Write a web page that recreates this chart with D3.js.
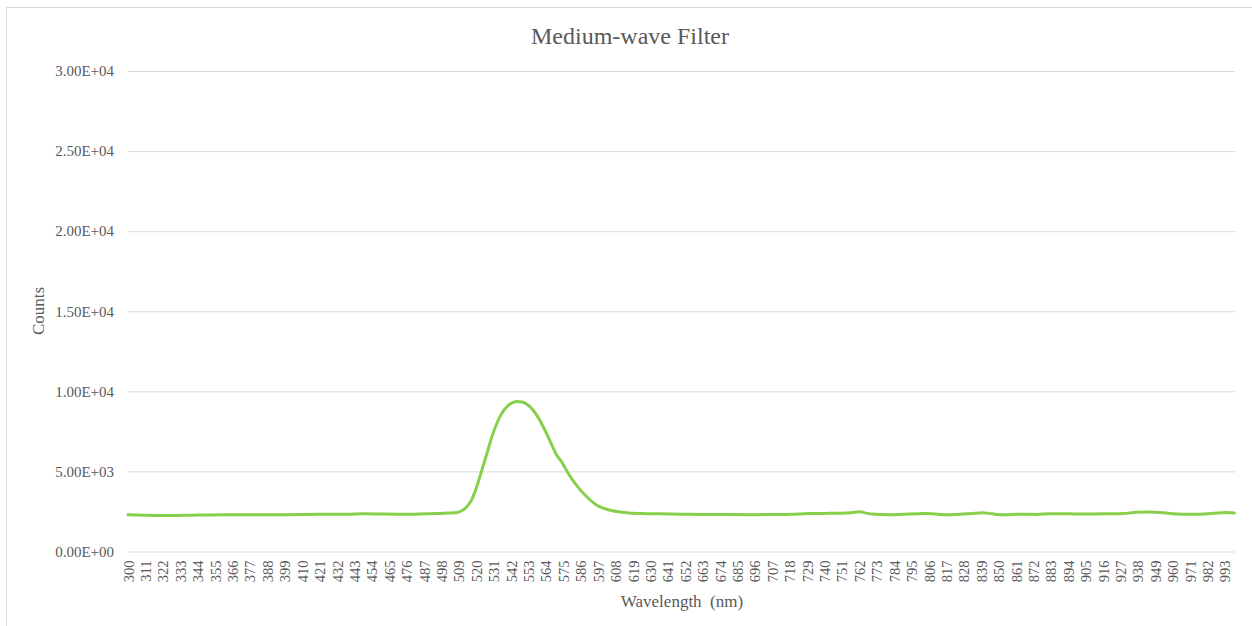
<!DOCTYPE html>
<html>
<head>
<meta charset="utf-8">
<script src="https://cdn.jsdelivr.net/npm/d3@7"></script>
<style>
  body { margin: 0; background: #fff; }
  text { font-family: "Times New Roman", "Liberation Serif", serif; fill: #595959; }
</style>
</head>
<body>
<svg id="chart" width="1252" height="626"></svg>
<script>
// wavelength (nm) samples
const wavelengths = [300, 310, 320, 330, 340, 350, 360, 370, 380, 390, 400, 410, 420, 430, 440, 450, 460, 470, 480, 490,
  497, 503, 508, 513, 517, 520, 523, 527, 530, 533, 536, 540, 543, 546, 549, 552, 556, 560, 564, 568, 571, 574, 578, 583,
  590, 596, 604, 615, 625, 635, 650, 665, 680, 695, 710, 720, 730, 740, 750, 757, 762, 767, 772, 781, 790, 800, 805, 815,
  826, 833, 840, 846, 853, 864, 874, 883, 895, 906, 918, 929, 937, 944, 952, 960, 968, 975, 986, 994, 999];
const counts = [2300, 2270, 2250, 2250, 2270, 2280, 2290, 2300, 2300, 2290, 2300, 2310, 2320, 2320, 2330, 2350, 2340, 2330, 2330, 2350,
  2380, 2400, 2440, 2690, 3210, 3950, 4900, 6200, 7200, 7990, 8600, 9100, 9300, 9360, 9330, 9200, 8820, 8230, 7450, 6600, 6000, 5600, 4900, 4180,
  3400, 2900, 2590, 2420, 2370, 2350, 2330, 2310, 2310, 2300, 2310, 2330, 2370, 2380, 2390, 2420, 2480, 2380, 2330, 2300, 2330, 2360, 2380, 2290,
  2330, 2380, 2420, 2350, 2290, 2330, 2310, 2360, 2350, 2340, 2350, 2370, 2450, 2470, 2440, 2360, 2330, 2320, 2390, 2430, 2400];

const xTicks = [300, 311, 322, 333, 344, 355, 366, 377, 388, 399, 410, 421, 432, 443, 454, 465, 476, 487, 498, 509,
  520, 531, 542, 553, 564, 575, 586, 597, 608, 619, 630, 641, 652, 663, 674, 685, 696, 707, 718, 729, 740, 751,
  762, 773, 784, 795, 806, 817, 828, 839, 850, 861, 872, 883, 894, 905, 916, 927, 938, 949, 960, 971, 982, 993];
const yTicks = [0, 5000, 10000, 15000, 20000, 25000, 30000];

const svg = d3.select('#chart');
const plotLeft = 128, plotRight = 1235, plotTop = 71, plotBottom = 551.5;

// chart frame
svg.append('rect')
  .attr('x', 6.5).attr('y', 7.5)
  .attr('width', 1260).attr('height', 640)
  .attr('fill', 'none').attr('stroke', '#d9d9d9');

const x = d3.scaleLinear().domain([300, 1000]).range([plotLeft, plotRight + 1]);
const y = d3.scaleLinear().domain([0, 30000]).range([plotBottom, plotTop]);

// Excel style 3.00E+04
const sci = v => {
  if (v === 0) return '0.00E+00';
  const e = Math.floor(Math.log10(v));
  const m = v / Math.pow(10, e);
  return m.toFixed(2) + 'E' + (e < 0 ? '-' : '+') + String(Math.abs(e)).padStart(2, '0');
};

const yAxis = svg.append('g')
  .attr('transform', `translate(${plotLeft},0)`)
  .call(d3.axisLeft(y).tickValues(yTicks).tickFormat(sci).tickSize(-(plotRight - plotLeft)).tickPadding(14));
yAxis.select('.domain').remove();
yAxis.selectAll('line').attr('stroke', '#d9d9d9');
yAxis.selectAll('text').style('font-size', '15px');

const xAxis = svg.append('g')
  .attr('transform', `translate(0,${plotBottom})`)
  .call(d3.axisBottom(x).tickValues(xTicks).tickSize(0));
xAxis.select('.domain').remove();
xAxis.selectAll('text')
  .style('font-size', '14.5px')
  .attr('transform', 'rotate(-90)')
  .attr('text-anchor', 'end')
  .attr('x', -9).attr('y', 0).attr('dy', '0.35em');

const line = d3.line()
  .x((d, i) => x(wavelengths[i]))
  .y(d => y(d))
  .curve(d3.curveMonotoneX);

svg.append('path')
  .datum(counts)
  .attr('d', line)
  .attr('fill', 'none')
  .attr('stroke', '#88cf4b')
  .attr('stroke-width', 3)
  .attr('stroke-linejoin', 'round')
  .attr('stroke-linecap', 'round');

svg.append('text')
  .attr('x', 630).attr('y', 44)
  .attr('text-anchor', 'middle')
  .style('font-size', '24px')
  .text('Medium-wave Filter');

svg.append('text')
  .attr('x', 682).attr('y', 607)
  .attr('text-anchor', 'middle')
  .style('font-size', '17px')
  .style('white-space', 'pre')
  .text('Wavelength  (nm)');

svg.append('text')
  .attr('transform', 'translate(44,311) rotate(-90)')
  .attr('text-anchor', 'middle')
  .style('font-size', '17px')
  .text('Counts');
</script>
</body>
</html>
